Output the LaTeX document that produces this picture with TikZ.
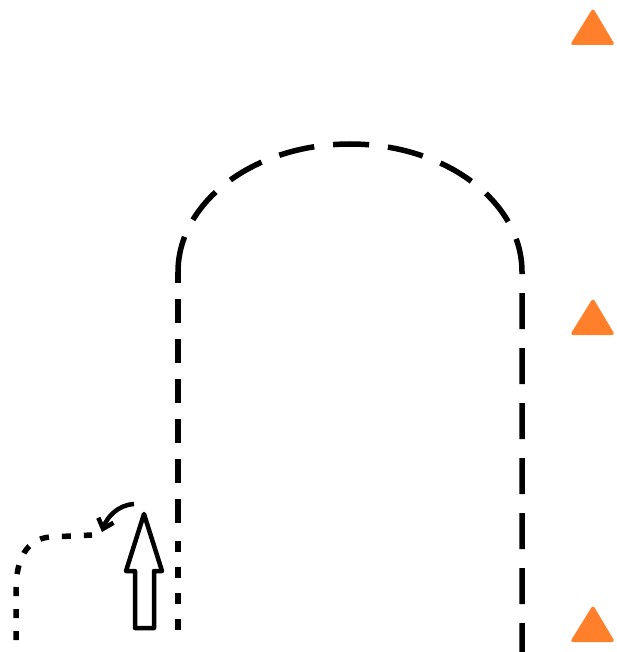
\documentclass[tikz,border=0pt]{standalone}
\usepackage{tikz}
\usetikzlibrary{arrows.meta}
\definecolor{coneorange}{RGB}{255,127,42}

\begin{document}
\begin{tikzpicture}[x=1pt,y=-1pt,line width=5.5pt]
\useasboundingbox (0,0) rectangle (616,652);
\coordinate (lefttop) at (178,272);
\coordinate (leftmid) at (178,523);
\coordinate (leftend) at (178,630);
\coordinate (rightend) at (522,652);
% track with the turn
\draw[dash pattern=on 24pt off 16pt] (leftmid) -- (lefttop);
\draw[dash pattern=on 11pt off 15pt] (leftend) -- (178,539);
\draw[dash pattern=on 36pt off 19pt] (lefttop) arc[start angle=180,end angle=0,x radius=172pt,y radius=128pt] -- (rightend);
% start, bending off to the left
\draw[dash pattern=on 9pt off 13pt] (16,640) -- (16,590) .. controls (16,560) and (26,539) .. (50,537) -- (92,535);
\draw[line width=4.5pt,-{Straight Barb[length=9pt,width=16pt]}] (134,504) .. controls (118,505) and (107,517) .. (102,532);
\draw[line width=4.5pt,line join=round] (144,514) -- (162,571) -- (154,571) -- (154,628) -- (135,628) -- (135,571) -- (126,571) -- cycle;
% cones
\foreach \y in {8,298,605}
  \fill[coneorange,rounded corners=3pt] (593,\y) -- (615,\y+37) -- (570,\y+37) -- cycle;
\end{tikzpicture}
\end{document}
